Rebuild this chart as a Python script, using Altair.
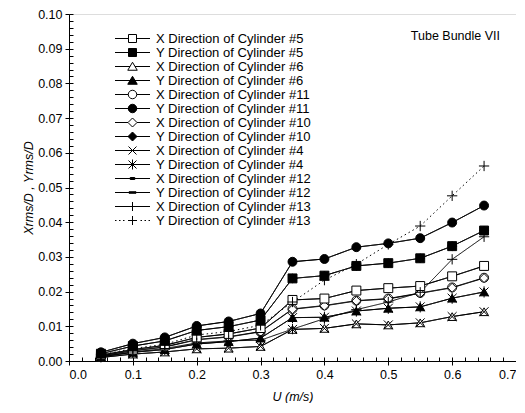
import altair as alt
import pandas as pd

# ---- data ----
u = [0.05, 0.10, 0.15, 0.20, 0.25, 0.30, 0.35, 0.40, 0.45, 0.50, 0.55, 0.60, 0.65]

names = [
    "X Direction of Cylinder #5", "Y Direction of Cylinder #5",
    "X Direction of Cylinder #6", "Y Direction of Cylinder #6",
    "X Direction of Cylinder #11", "Y Direction of Cylinder #11",
    "X Direction of Cylinder #10", "Y Direction of Cylinder #10",
    "X Direction of Cylinder #4", "Y Direction of Cylinder #4",
    "X Direction of Cylinder #12", "Y Direction of Cylinder #12",
    "X Direction of Cylinder #13", "Y Direction of Cylinder #13",
]

x5  = [0.0017, 0.0033, 0.0045, 0.0068, 0.0078, 0.0095, 0.0176, 0.0180, 0.0203, 0.0210, 0.0216, 0.0244, 0.0274]
y5  = [0.0021, 0.0043, 0.0058, 0.0088, 0.0099, 0.0118, 0.0238, 0.0246, 0.0274, 0.0282, 0.0296, 0.0331, 0.0376]
x6  = [0.0010, 0.0020, 0.0026, 0.0035, 0.0037, 0.0042, 0.0091, 0.0094, 0.0107, 0.0104, 0.0110, 0.0128, 0.0142]
y6  = [0.0012, 0.0025, 0.0033, 0.0049, 0.0056, 0.0066, 0.0125, 0.0126, 0.0144, 0.0152, 0.0156, 0.0181, 0.0199]
x11 = [0.0015, 0.0030, 0.0041, 0.0062, 0.0070, 0.0085, 0.0150, 0.0160, 0.0174, 0.0180, 0.0196, 0.0212, 0.0240]
y11 = [0.0025, 0.0050, 0.0068, 0.0101, 0.0114, 0.0137, 0.0286, 0.0294, 0.0328, 0.0339, 0.0354, 0.0399, 0.0448]
x10 = [0.0015, 0.0029, 0.0040, 0.0061, 0.0069, 0.0084, 0.0149, 0.0159, 0.0173, 0.0179, 0.0195, 0.0211, 0.0239]
y10 = [0.0021, 0.0043, 0.0058, 0.0088, 0.0099, 0.0118, 0.0238, 0.0246, 0.0274, 0.0282, 0.0296, 0.0331, 0.0376]
x4  = [0.0010, 0.0020, 0.0026, 0.0035, 0.0037, 0.0042, 0.0091, 0.0094, 0.0107, 0.0104, 0.0110, 0.0128, 0.0142]
y4  = [0.0012, 0.0025, 0.0033, 0.0049, 0.0056, 0.0066, 0.0125, 0.0126, 0.0144, 0.0152, 0.0156, 0.0181, 0.0199]
x12 = [0.0017, 0.0033, 0.0045, 0.0068, 0.0078, 0.0095, 0.0176, 0.0180, 0.0203, 0.0210, 0.0216, 0.0244, 0.0274]
y12 = [0.0025, 0.0050, 0.0068, 0.0101, 0.0114, 0.0137, 0.0286, 0.0294, 0.0328, 0.0339, 0.0354, 0.0399, 0.0448]
x13 = [0.0013, 0.0026, 0.0036, 0.0052, 0.0058, 0.0060, 0.0092, 0.0122, 0.0148, 0.0170, 0.0198, 0.0293, 0.0358]
y13 = [0.0018, 0.0036, 0.0048, 0.0075, 0.0085, 0.0103, 0.0170, 0.0233, 0.0279, 0.0336, 0.0389, 0.0476, 0.0562]

values = [x5, y5, x6, y6, x11, y11, x10, y10, x4, y4, x12, y12, x13, y13]

# drawing order of markers (later = on top)
draw_rank = [8, 9, 2, 3, 6, 11, 7, 10, 4, 5, 1, 0, 12, 13]

y_ticks = [round(i * 0.01, 2) for i in range(11)]
x_ticks = [round(i * 0.1, 1) for i in range(8)]
y_minor = [round(i * 0.002, 3) for i in range(51)]
x_minor = [round(i * 0.02, 2) for i in range(36)]

annotation = "Tube Bundle VII"
x_title = "U (m/s)"
y_title = "Xrms/D , Yrms/D"

# ---- styles ----
FONT = "Liberation Sans"
fills = ["white", "black", "white", "black", "white", "black", "white", "black",
         "white", "white", "black", "black", "white", "white"]
plot_shapes = [
    "square", "square", "triangle-up", "triangle-up", "circle", "circle",
    "diamond", "diamond",
    "M-1,-1L1,1M-1,1L1,-1",
    "M-1,-1L1,1M-1,1L1,-1M0,-1.25V1.25",
    "M-0.55,-0.25H0.55V0.25H-0.55Z",
    "M-0.8,-0.25H0.8V0.25H-0.8Z",
    "M-1.15,0H1.15M0,-1.15V1.15",
    "M-1.15,0H1.15M0,-1.15V1.15",
]
L = "M-3.5,0H3.5"
gap = lambda a: "M-3.5,0H-%sM%s,0H3.5" % (a, a)
dots = "M-3.5,0H-3.2M-2.7,0H-2.4M-1.9,0H-1.6M1.6,0H1.9M2.4,0H2.7M3.2,0H3.5"
legend_shapes = [
    gap(0.8) + "M-0.8,-0.8H0.8V0.8H-0.8Z",
    L + "M-0.8,-0.8H0.8V0.8H-0.8Z",
    gap(0.5) + "M0,-0.85L0.95,0.75L-0.95,0.75Z",
    L + "M0,-0.85L0.95,0.75L-0.95,0.75Z",
    gap(0.85) + "M-0.85,0A0.85,0.85 0 1,0 0.85,0A0.85,0.85 0 1,0 -0.85,0Z",
    L + "M-0.85,0A0.85,0.85 0 1,0 0.85,0A0.85,0.85 0 1,0 -0.85,0Z",
    gap(0.9) + "M-0.9,0L0,-0.9L0.9,0L0,0.9Z",
    L + "M-0.9,0L0,-0.9L0.9,0L0,0.9Z",
    L + "M-0.8,-0.8L0.8,0.8M-0.8,0.8L0.8,-0.8",
    L + "M-0.8,-0.8L0.8,0.8M-0.8,0.8L0.8,-0.8M0,-1V1",
    L + "M-0.45,-0.2H0.45V0.2H-0.45Z",
    L + "M-0.7,-0.15H0.7V0.15H-0.7Z",
    L + "M0,-0.9V0.9",
    dots + "M-0.9,0H0.9M0,-0.9V0.9",
]
strokes = ["black"] * 14
dashes = [[1, 0]] * 13 + [[1.5, 3]]

rows = []
for name, vals, rank in zip(names, values, draw_rank):
    for uu, vv in zip(u, vals):
        rows.append({"u": uu, "v": vv, "series": name, "draw": rank})
df = pd.DataFrame(rows)

W, H = 447, 347
xs = alt.Scale(domain=[0, 0.7], nice=False, zero=False)
ys = alt.Scale(domain=[0, 0.1], nice=False, zero=False)

base = alt.Chart(df)

lines = base.mark_line(color="black", strokeWidth=1).encode(
    x=alt.X("u:Q", scale=xs, axis=alt.Axis(
        values=x_ticks, format=".1f", title=x_title, tickSize=4, grid=False,
        labelFont=FONT, labelFontSize=12.5, labelColor="black", labelPadding=3,
        titleFont=FONT, titleFontSize=12.5, titleFontStyle="italic",
        titleFontWeight="normal", titleColor="black", titlePadding=10,
        domainColor="black", tickColor="black")),
    y=alt.Y("v:Q", scale=ys, axis=alt.Axis(
        values=y_ticks, format=".2f", title=y_title, tickSize=4, grid=False,
        labelFont=FONT, labelFontSize=12.5, labelColor="black", labelPadding=3,
        titleFont=FONT, titleFontSize=12.5, titleFontStyle="italic",
        titleFontWeight="normal", titleColor="black", titlePadding=2,
        domainColor="black", tickColor="black")),
    detail="series:N",
    strokeDash=alt.StrokeDash("series:N", scale=alt.Scale(domain=names, range=dashes), legend=None),
)

points = base.mark_point(filled=True, stroke="black", strokeWidth=1, size=80, opacity=1).encode(
    x=alt.X("u:Q", scale=xs, axis=None),
    y=alt.Y("v:Q", scale=ys, axis=None),
    shape=alt.Shape("series:N", scale=alt.Scale(domain=names, range=plot_shapes), legend=None),
    fill=alt.Fill("series:N", scale=alt.Scale(domain=names, range=fills), legend=None),
    order=alt.Order("draw:Q"),
)

leg = alt.Legend(
    title=None, orient="none", legendX=57, legendY=18, padding=0,
    symbolSize=100, symbolStrokeWidth=1, symbolStrokeColor="black",
    labelFont=FONT, labelFontSize=13, labelColor="black", labelOffset=17,
    labelLimit=400, rowPadding=-1, symbolLimit=0,
)
legend_layer = base.transform_filter("datum.v < 0").mark_point(
    filled=True, stroke="black", strokeWidth=1, opacity=1).encode(
    x=alt.X("u:Q", scale=xs, axis=None),
    y=alt.Y("v:Q", scale=ys, axis=None),
    shape=alt.Shape("series:N", scale=alt.Scale(domain=names, range=legend_shapes), legend=leg),
    fill=alt.Fill("series:N", scale=alt.Scale(domain=names, range=fills), legend=leg),
    stroke=alt.Stroke("series:N", scale=alt.Scale(domain=names, range=strokes), legend=leg),
)

minor = base.mark_point(opacity=0).encode(
    x=alt.X("u:Q", scale=xs, axis=alt.Axis(
        orient="top", offset=-H, values=x_minor, labels=False, domain=False,
        grid=False, tickSize=4, tickColor="black", title=None)),
    y=alt.Y("v:Q", scale=ys, axis=alt.Axis(
        orient="right", offset=-W, values=y_minor, labels=False, domain=False,
        grid=False, tickSize=4, tickColor="black", title=None)),
)

note = alt.Chart(pd.DataFrame({"t": [annotation]})).mark_text(
    align="right", baseline="middle", font=FONT, fontSize=12.5, color="black"
).encode(x=alt.value(431), y=alt.value(22), text="t:N")

chart = alt.layer(lines, points, legend_layer, minor, note).resolve_scale(
    shape="independent", fill="independent", stroke="independent"
).resolve_axis(x="independent", y="independent").properties(
    width=W, height=H, autosize="none",
    padding={"left": 61, "top": 6, "right": 0, "bottom": 42},
).configure_view(stroke="black", strokeWidth=1).configure(background="white")

chart.save("out.html", embed_options={"renderer": "svg", "actions": False})
